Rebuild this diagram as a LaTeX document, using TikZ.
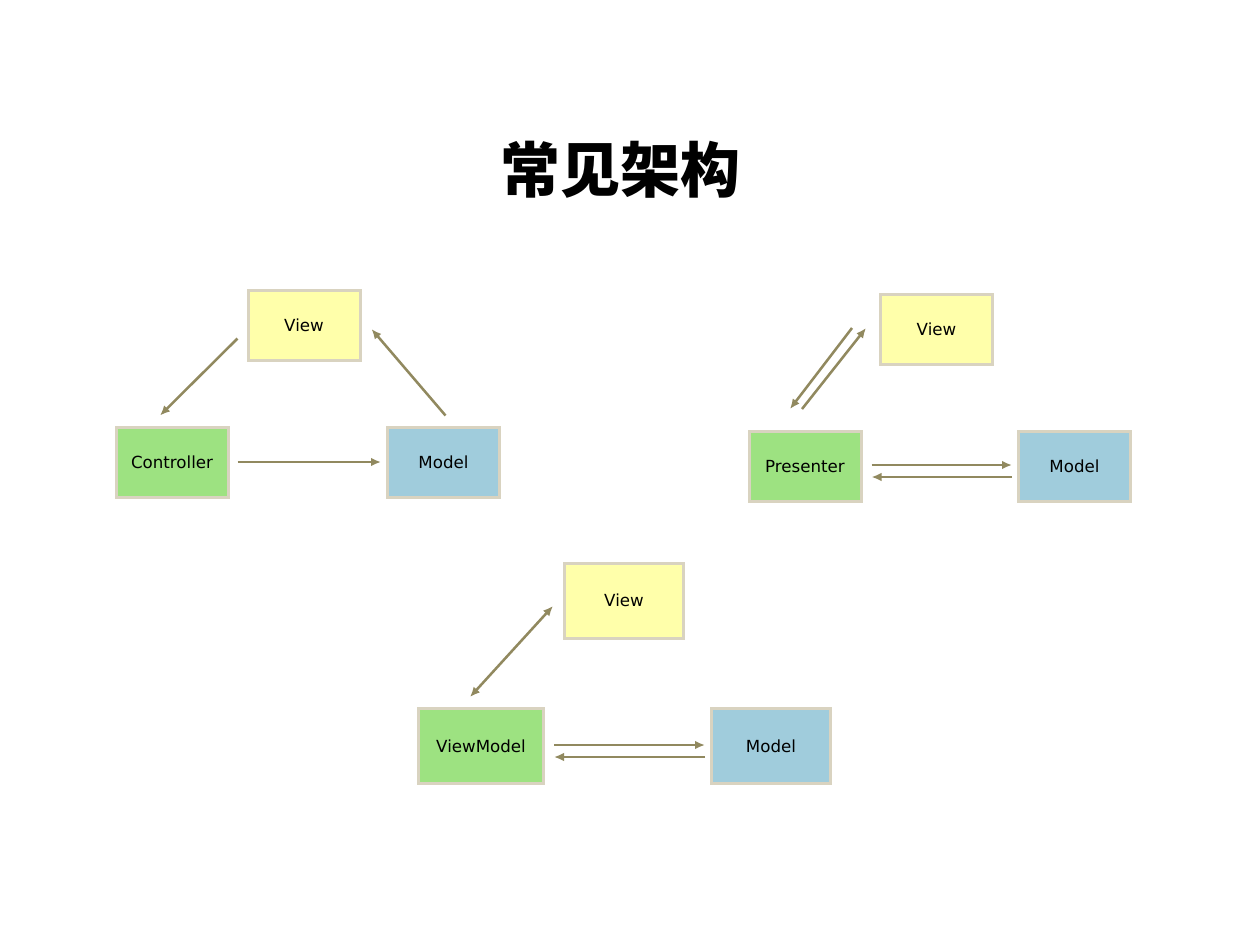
\documentclass[tikz,border=0pt]{standalone}
\usepackage{fontspec}
\setmainfont{DejaVu Sans}
\newfontfamily\cjk{Noto Sans CJK SC}
\usepackage{tikz}
\usetikzlibrary{arrows.meta,positioning}
\definecolor{gelbKasten}{RGB}{255,255,170}
\definecolor{gruenKasten}{RGB}{157,226,129}
\definecolor{blauKasten}{RGB}{160,204,220}
\definecolor{rahmenFarbe}{RGB}{217,211,192}
\definecolor{pfeilFarbe}{RGB}{145,137,95}

\begin{document}
\begin{tikzpicture}[x=0.75pt,y=-0.75pt,
  kasten/.style={draw=rahmenFarbe,line width=2.25pt,minimum width=84pt,minimum height=52.5pt,font=\fontsize{12.5}{15}\selectfont},
  grosskasten/.style={kasten,minimum width=89.25pt,minimum height=56.25pt},
  pfeil/.style={draw=pfeilFarbe,line width=1.9pt,-{Latex[length=7.5pt,width=6.5pt]}},
  doppelpfeil/.style={pfeil,{Latex[length=7.5pt,width=6.5pt]}-{Latex[length=7.5pt,width=6.5pt]}}]
\fill[white] (0,0) rectangle (1240,929);
\useasboundingbox (0,0) rectangle (1240,929);
%Ueberschrift
\node (titel) at (620,170) {\cjk\bfseries\fontsize{45}{50}\selectfont 常见架构};
%MVC links oben
\node[kasten,fill=gelbKasten] (v1) at (304,325) {View};
\node[kasten,fill=gruenKasten] (c1) at (172,462) {Controller};
\node[kasten,fill=blauKasten] (m1) at (443.5,462) {Model};
\draw[pfeil] ([shift={(-9,-23)}]v1.south west) -- ([shift={(-12,-10)}]c1.north);
\draw[pfeil] ([shift={(2,-10)}]m1.north) -- ([shift={(10,4)}]v1.east);
\draw[pfeil] ([xshift=8*0.75pt]c1.east) -- ([xshift=-5*0.75pt]m1.west);
%MVP rechts oben
\node[kasten,fill=gelbKasten] (v2) at (936.5,329.5) {View};
\node[kasten,fill=gruenKasten] (p2) at (805,466.5) {Presenter};
\node[kasten,fill=blauKasten] (m2) at (1074.5,466.5) {Model};
\draw[pfeil] ([shift={(-27,-1.5)}]v2.west) -- ([shift={(-15,-21)}]p2.north);
\draw[pfeil] ([shift={(-3,-21)}]p2.north) -- ([shift={(-13,-1.5)}]v2.west);
\draw[pfeil] ([shift={(9,-1.5)}]p2.east) -- ([shift={(-5,-1.5)}]m2.west);
\draw[pfeil] ([shift={(-5,10.5)}]m2.west) -- ([shift={(9,10.5)}]p2.east);
%MVVM unten
\node[grosskasten,fill=gelbKasten] (v3) at (624,600.5) {View};
\node[grosskasten,fill=gruenKasten,minimum width=93.75pt] (vm3) at (481,746) {ViewModel};
\node[grosskasten,fill=blauKasten] (m3) at (771,746) {Model};
\draw[doppelpfeil] ([shift={(-11,-10)}]vm3.north) -- ([shift={(-10,5.5)}]v3.west);
\draw[pfeil] ([shift={(9,-1)}]vm3.east) -- ([shift={(-5,-1)}]m3.west);
\draw[pfeil] ([shift={(-5,11)}]m3.west) -- ([shift={(9,11)}]vm3.east);
\end{tikzpicture}
\end{document}
